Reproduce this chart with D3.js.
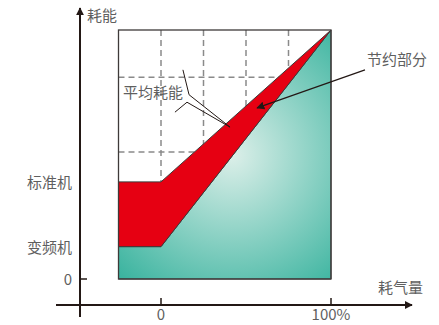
<!DOCTYPE html>
<html>
<head>
<meta charset="utf-8">
<script src="https://cdn.jsdelivr.net/npm/d3@7"></script>
<style>
  body { margin: 0; background: #fff; }
  text { font-family: "Noto Sans CJK SC", "Noto Sans", sans-serif; fill: #5f5f5f; font-size: 15px; }
</style>
</head>
<body>
<script>
// load (%) breakpoints and power for each machine
var loadPct = [-25, 0, 100];
var standardPower = [39, 39, 100];
var inverterPower = [13, 13, 100];

var gridX = [0, 25, 50, 75];
var gridY = [51, 81];

var xTickValues = [0, 100];
var xTickLabels = ['0', '100%'];
var yTickValues = [0, 13, 39];
var yTickLabels = ['0', '变频机', '标准机'];

// annotation anchor points (data units)
var avgLeaderA = [[12.9, 84], [16.5, 74], [40.6, 61]];
var avgLeaderB = [[8.2, 67], [15.3, 71], [40.6, 61]];
var savingArrow = [[120, 84], [56.5, 68.7]];

var width = 439, height = 325;
var axisX = 80, axisY = 305;

var svg = d3.select('body').append('svg')
  .attr('width', width)
  .attr('height', height);

var x = d3.scaleLinear().domain([-25, 100]).range([118.5, 331]);
var y = d3.scaleLinear().domain([0, 100]).range([279, 30]);

var defs = svg.append('defs');
var grad = defs.append('radialGradient')
  .attr('id', 'teal')
  .attr('gradientUnits', 'userSpaceOnUse')
  .attr('cx', 232).attr('cy', 155).attr('r', 170);
grad.append('stop').attr('offset', 0).attr('stop-color', '#dcefe9');
grad.append('stop').attr('offset', 1).attr('stop-color', '#36b29d');

defs.append('marker')
  .attr('id', 'head')
  .attr('viewBox', '0 0 10 10')
  .attr('refX', 9).attr('refY', 5)
  .attr('markerWidth', 8).attr('markerHeight', 8)
  .attr('markerUnits', 'userSpaceOnUse')
  .attr('orient', 'auto')
  .append('path').attr('d', 'M0,0 L10,5 L0,10 Z').attr('fill', '#231815');

// dashed grid
svg.selectAll('.gx').data(gridX).enter().append('line')
  .attr('x1', function(d) { return x(d); })
  .attr('x2', function(d) { return x(d); })
  .attr('y1', y(100)).attr('y2', y(0))
  .attr('stroke', '#8a8a8a').attr('stroke-width', 1.5).attr('stroke-dasharray', '6,4');
svg.selectAll('.gy').data(gridY).enter().append('line')
  .attr('x1', x(-25)).attr('x2', x(100))
  .attr('y1', function(d) { return y(d); })
  .attr('y2', function(d) { return y(d); })
  .attr('stroke', '#8a8a8a').attr('stroke-width', 1.5).attr('stroke-dasharray', '6,4');

// teal area under inverter curve
var tealPts = loadPct.map(function(d, i) { return [x(d), y(inverterPower[i])]; });
tealPts.push([x(100), y(0)], [x(-25), y(0)]);
svg.append('path')
  .attr('d', d3.line()(tealPts) + 'Z')
  .attr('fill', 'url(#teal)')
  .attr('stroke', '#3e3a39').attr('stroke-width', 1);

// red saving area between the curves
var redPts = loadPct.map(function(d, i) { return [x(d), y(standardPower[i])]; });
for (var i = loadPct.length - 1; i >= 0; i--) redPts.push([x(loadPct[i]), y(inverterPower[i])]);
svg.append('path')
  .attr('d', d3.line()(redPts) + 'Z')
  .attr('fill', '#e60012')
  .attr('stroke', '#3e3a39').attr('stroke-width', 1);

// frame
svg.append('rect')
  .attr('x', x(-25)).attr('y', y(100))
  .attr('width', x(100) - x(-25)).attr('height', y(0) - y(100))
  .attr('fill', 'none').attr('stroke', '#3e3a39').attr('stroke-width', 1.3);

// axes
svg.append('line')
  .attr('x1', axisX).attr('x2', axisX).attr('y1', 317).attr('y2', 8)
  .attr('stroke', '#231815').attr('stroke-width', 2).attr('marker-end', 'url(#head)');
svg.append('line')
  .attr('x1', 56).attr('x2', 412).attr('y1', axisY).attr('y2', axisY)
  .attr('stroke', '#231815').attr('stroke-width', 2).attr('marker-end', 'url(#head)');

svg.selectAll('.xt').data(xTickValues).enter().append('line')
  .attr('x1', function(d) { return x(d); }).attr('x2', function(d) { return x(d); })
  .attr('y1', axisY - 7).attr('y2', axisY)
  .attr('stroke', '#231815').attr('stroke-width', 1.5);
svg.selectAll('.xl').data(xTickValues).enter().append('text')
  .attr('x', function(d) { return x(d); })
  .attr('y', 315)
  .attr('dy', '0.35em')
  .attr('text-anchor', 'middle')
  .text(function(d, i) { return xTickLabels[i]; });

svg.append('line')
  .attr('x1', axisX).attr('x2', axisX + 7).attr('y1', y(0)).attr('y2', y(0))
  .attr('stroke', '#231815').attr('stroke-width', 1.5);
svg.selectAll('.yl').data(yTickValues).enter().append('text')
  .attr('x', 72)
  .attr('y', function(d) { return y(d) + 1; })
  .attr('dy', '0.35em')
  .attr('text-anchor', 'end')
  .text(function(d, i) { return yTickLabels[i]; });

svg.append('text').attr('x', 87).attr('y', 16).attr('dy', '0.35em').text('耗能');
svg.append('text').attr('x', 378).attr('y', 288).attr('dy', '0.35em').text('耗气量');

// annotations
var line = d3.line().x(function(d) { return x(d[0]); }).y(function(d) { return y(d[1]); });
svg.append('text').attr('x', 123).attr('y', 93).attr('dy', '0.35em').text('平均耗能');
[avgLeaderA, avgLeaderB].forEach(function(pts) {
  svg.append('path').attr('d', line(pts))
    .attr('fill', 'none').attr('stroke', '#231815').attr('stroke-width', 1);
});

svg.append('text').attr('x', 367).attr('y', 60).attr('dy', '0.35em').text('节约部分');
svg.append('path').attr('d', line(savingArrow))
  .attr('fill', 'none').attr('stroke', '#231815').attr('stroke-width', 1.2)
  .attr('marker-end', 'url(#head)');
</script>
</body>
</html>
